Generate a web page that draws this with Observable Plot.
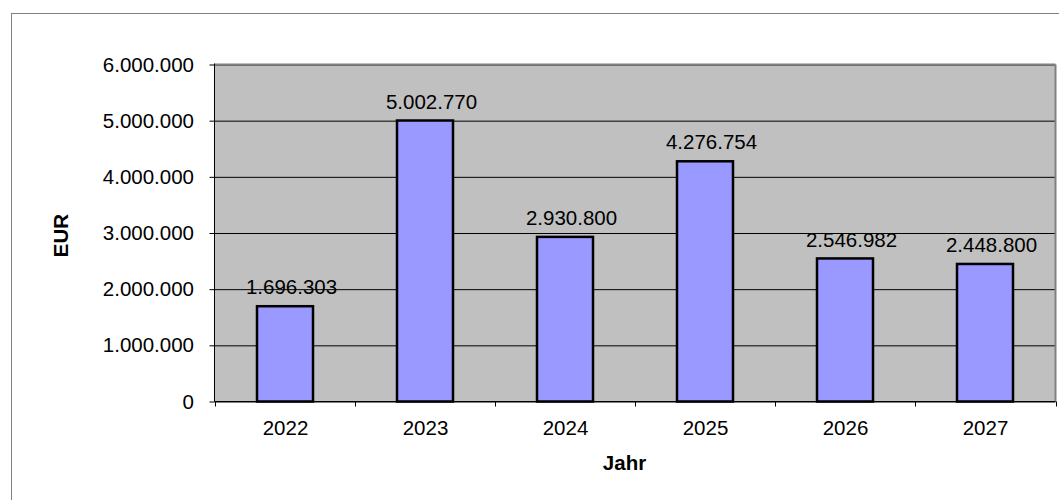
<!DOCTYPE html>
<html>
<head>
<meta charset="utf-8">
<script src="https://cdn.jsdelivr.net/npm/d3@7"></script>
<script src="https://cdn.jsdelivr.net/npm/@observablehq/plot@0.6"></script>
<style>
  html, body { margin: 0; padding: 0; background: #fff; overflow: hidden; }
  #wrap { position: relative; width: 1059px; height: 500px; overflow: hidden; }
  #border { position: absolute; left: 11px; top: 13px; width: 1200px; height: 800px; border: 1px solid #808080; pointer-events: none; }
  #wrap svg { position: absolute; left: 0; top: 0; }
</style>
</head>
<body>
<div id="wrap"><div id="border"></div></div>
<script>
const years = ["2022", "2023", "2024", "2025", "2026", "2027"];
const values = [1696303, 5002770, 2930800, 4276754, 2546982, 2448800];
const yTicks = [0, 1000000, 2000000, 3000000, 4000000, 5000000, 6000000];
const xLabel = "Jahr";
const yLabel = "EUR";

const de = d3.formatLocale({decimal: ",", thousands: ".", grouping: [3], currency: ["", " €"]});
const fmt = de.format(",d");
const data = years.map((year, i) => ({year, value: values[i]}));

const frameLines = (index, scales, vals, dims) => {
  const g = d3.create("svg:g");
  const x0 = dims.marginLeft, x1 = dims.width - dims.marginRight;
  const y0 = dims.marginTop, y1 = dims.height - dims.marginBottom;
  g.append("line").attr("x1", x0).attr("x2", x1).attr("y1", y0).attr("y2", y0)
    .attr("stroke", "#808080").attr("stroke-width", 2);
  g.append("line").attr("x1", x1).attr("x2", x1).attr("y1", y0).attr("y2", y1)
    .attr("stroke", "#808080").attr("stroke-width", 2);
  g.append("line").attr("x1", x0).attr("x2", x0).attr("y1", y0 - 1).attr("y2", y1)
    .attr("stroke", "black").attr("stroke-width", 1);
  g.append("line").attr("x1", x0).attr("x2", x1).attr("y1", y1).attr("y2", y1)
    .attr("stroke", "black").attr("stroke-width", 1);
  const step = (x1 - x0) / years.length;
  for (let i = 0; i <= years.length; i++) {
    const x = Math.round(x0 + i * step) + 0.5;
    g.append("line").attr("x1", x).attr("x2", x).attr("y1", y1).attr("y2", y1 + 5)
      .attr("stroke", "black").attr("stroke-width", 1);
  }
  return g.node();
};

const chart = Plot.plot({
  width: 1059,
  height: 500,
  marginLeft: 214.5,
  marginRight: 3.5,
  marginTop: 64.5,
  marginBottom: 98.5,
  style: {fontFamily: "'Liberation Sans', Arial, sans-serif", fontSize: "20.5px", color: "black", background: "transparent", overflow: "visible"},
  x: {domain: years, paddingInner: 0.6, paddingOuter: 0.3, label: null},
  y: {domain: [0, 6000000], label: null},
  marks: [
    Plot.frame({fill: "#c0c0c0", stroke: null}),
    Plot.gridY(yTicks, {stroke: "black", strokeOpacity: 1, strokeWidth: 1}),
    frameLines,
    Plot.barY(data, {x: "year", y: "value", fill: "#9999ff", stroke: "black", strokeWidth: 2.5}),
    Plot.axisY(yTicks, {tickFormat: fmt, tickSize: 5, tickPadding: 16, label: null}),
    Plot.axisX({tickSize: 0, tickPadding: 18, label: null}),
    Plot.text(data, {x: "year", y: "value", text: d => fmt(d.value), dy: -19, dx: 6, fill: "black"}),
    Plot.text([yLabel], {frameAnchor: "left", textAnchor: "middle", lineAnchor: "middle", dx: -154, dy: 2, rotate: -90, fontWeight: "bold", fill: "black"}),
    Plot.text([xLabel], {frameAnchor: "bottom", textAnchor: "middle", lineAnchor: "middle", dx: -11, dy: 61, fontWeight: "bold", fill: "black"})
  ]
});
document.getElementById("wrap").appendChild(chart);
</script>
</body>
</html>
